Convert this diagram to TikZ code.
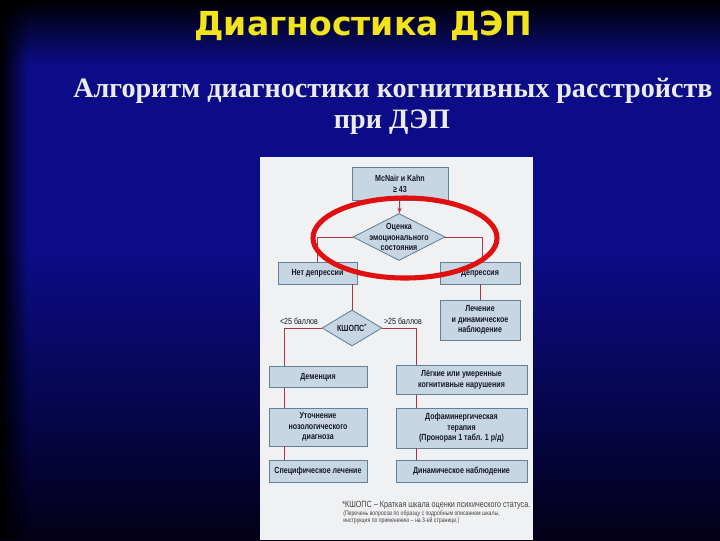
\documentclass[tikz,border=0pt]{standalone}
\usepackage{fontspec}
\setmainfont{Liberation Serif}
\newfontfamily\titlefont{DejaVu Sans}
\newfontfamily\boxfont[FakeStretch=0.8]{Liberation Sans}
\usepackage{xcolor}
\usepackage{tikz}
\usetikzlibrary{shapes,arrows,positioning,calc,fadings,arrows.meta}

\definecolor{bgblue}{RGB}{12,12,136}
\definecolor{bgmid}{RGB}{6,6,80}
\definecolor{bgbot}{RGB}{3,0,22}
\definecolor{titleyellow}{RGB}{242,228,28}
\definecolor{panelbg}{RGB}{240,241,243}
\definecolor{boxfill}{RGB}{198,214,226}
\definecolor{boxline}{RGB}{100,128,150}
\definecolor{boxtext}{RGB}{20,24,40}
\definecolor{linkred}{RGB}{176,48,72}
\definecolor{ringred}{RGB}{224,16,16}

\pgfdeclareverticalshading{slidebg}{100bp}{color(0bp)=(bgbot); color(25bp)=(bgbot); color(38bp)=(bgmid); color(52bp)=(bgblue); color(69bp)=(bgblue); color(75bp)=(black); color(100bp)=(black)}
\tikzfading[name=fadeleft, left color=transparent!0, right color=transparent!100]

\tikzset{
    sz/.style 2 args={minimum width=#1*0.025cm, minimum height=#2*0.025cm},
    box/.style={draw=boxline, fill=boxfill, line width=0.6pt, align=center, inner sep=1pt,
        text=boxtext, font=\boxfont\bfseries\fontsize{6.3}{7.6}\selectfont},
    decision/.style={box, shape=diamond, inner sep=0pt},
    dtext/.style={align=center, inner sep=0pt, text=boxtext,
        font=\boxfont\bfseries\fontsize{6.3}{7.6}\selectfont},
    link/.style={draw=linkred, line width=0.7pt},
    score/.style={inner sep=0pt, text=boxtext, font=\boxfont\fontsize{6.3}{7.6}\selectfont},
    noteline/.style={anchor=base west, inner sep=0pt, text=black!75}
}

\begin{document}
\begin{tikzpicture}[x=0.025cm, y=-0.025cm]
    \useasboundingbox (0,0) rectangle (720,540);
    \shade [shading=slidebg] (0,0) rectangle (720,540);
    \fill [black, path fading=fadeleft] (0,0) rectangle (28,540);

    % titles
    \node [text=titleyellow, font=\titlefont\bfseries\fontsize{23.5}{28}\selectfont] (title) at (363,26) {Диагностика ДЭП};
    \node [anchor=base, text=white!92!black, font=\bfseries\fontsize{20}{24}\selectfont] (sub1) at (393,97) {Алгоритм диагностики когнитивных расстройств};
    \node [anchor=base, text=white!92!black, font=\bfseries\fontsize{20}{24}\selectfont] (sub2) at (392,128) {при ДЭП};

    % scheme
    \fill [panelbg] (260,157) rectangle (533,540);

    \node [box, sz={96}{33}] (mcnair) at (400,184) {McNair и Kahn\\≥ 43};
    \node [decision, sz={92}{47}] (emo) at (399,237) {};
    \node [dtext] (emotext) at (emo) {Оценка\\эмоционального\\состояния};
    \node [box, sz={79}{22}] (nodep) at (317.5,273) {Нет депрессии};
    \node [box, sz={80}{22}] (dep) at (480,273) {Депрессия};
    \node [box, sz={80}{40}] (treat) at (480,320) {Лечение\\и динамическое\\наблюдение};
    \node [decision, sz={60}{36}] (kshops) at (352,328) {};
    \node [dtext] (kshopstext) at (kshops) {КШОПС\textsuperscript{*}};
    \node [score] (lt25) at (299,321) {<25 баллов};
    \node [score] (gt25) at (403,321) {>25 баллов};

    \node [box, sz={98}{21}] (dementia) at (318,377) {Деменция};
    \node [box, sz={98}{38}] (clarify) at (318,427) {Уточнение\\нозологического\\диагноза};
    \node [box, sz={98}{22}] (specific) at (318,471) {Специфическое лечение};
    \node [box, sz={131}{29}] (mci) at (461.5,380) {Лёгкие или умеренные\\когнитивные нарушения};
    \node [box, sz={131}{40}] (dopa) at (461.5,428) {Дофаминергическая\\терапия\\(Проноран 1 табл. 1 р/д)};
    \node [box, sz={131}{22}] (follow) at (461.5,471) {Динамическое наблюдение};

    \coordinate (lcol) at ($(dementia.north west)+(16,0)$);
    \coordinate (rcol) at ($(mci.north west)+(21,0)$);

    \draw [link, -{Stealth[length=4pt,width=3pt]}] (mcnair) -- (emo);
    \draw [link] (emo.west) -| (nodep.north);
    \draw [link] (emo.east) -| ($(dep.north)+(2,0)$);
    \draw [link] (dep) -- (treat);
    \draw [link] (nodep.south -| kshops.north) -- (kshops.north);
    \draw [link] (kshops.west) -| (lcol);
    \draw [link] (kshops.east) -| (rcol);
    \draw [link] (dementia.south -| lcol) -- (clarify.north -| lcol);
    \draw [link] (clarify.south -| lcol) -- (specific.north -| lcol);
    \draw [link] (mci.south -| rcol) -- (dopa.north -| rcol);
    \draw [link] (dopa.south -| rcol) -- (follow.north -| rcol);

    \draw [ringred, line width=3.6pt] (405,238) ellipse [x radius=2.3cm, y radius=1cm];

    \node [noteline, font=\boxfont\fontsize{6.4}{7.6}\selectfont] (note1) at (342,507) {*КШОПС – Краткая шкала оценки психического статуса.};
    \node [noteline, font=\boxfont\fontsize{4.6}{5.5}\selectfont] (note2) at (343,515) {(Перечень вопросов по образцу с подробным описанием шкалы,};
    \node [noteline, font=\boxfont\fontsize{4.6}{5.5}\selectfont] (note3) at (343,522) {инструкция по применению – на 3-ей странице.)};
\end{tikzpicture}
\end{document}
